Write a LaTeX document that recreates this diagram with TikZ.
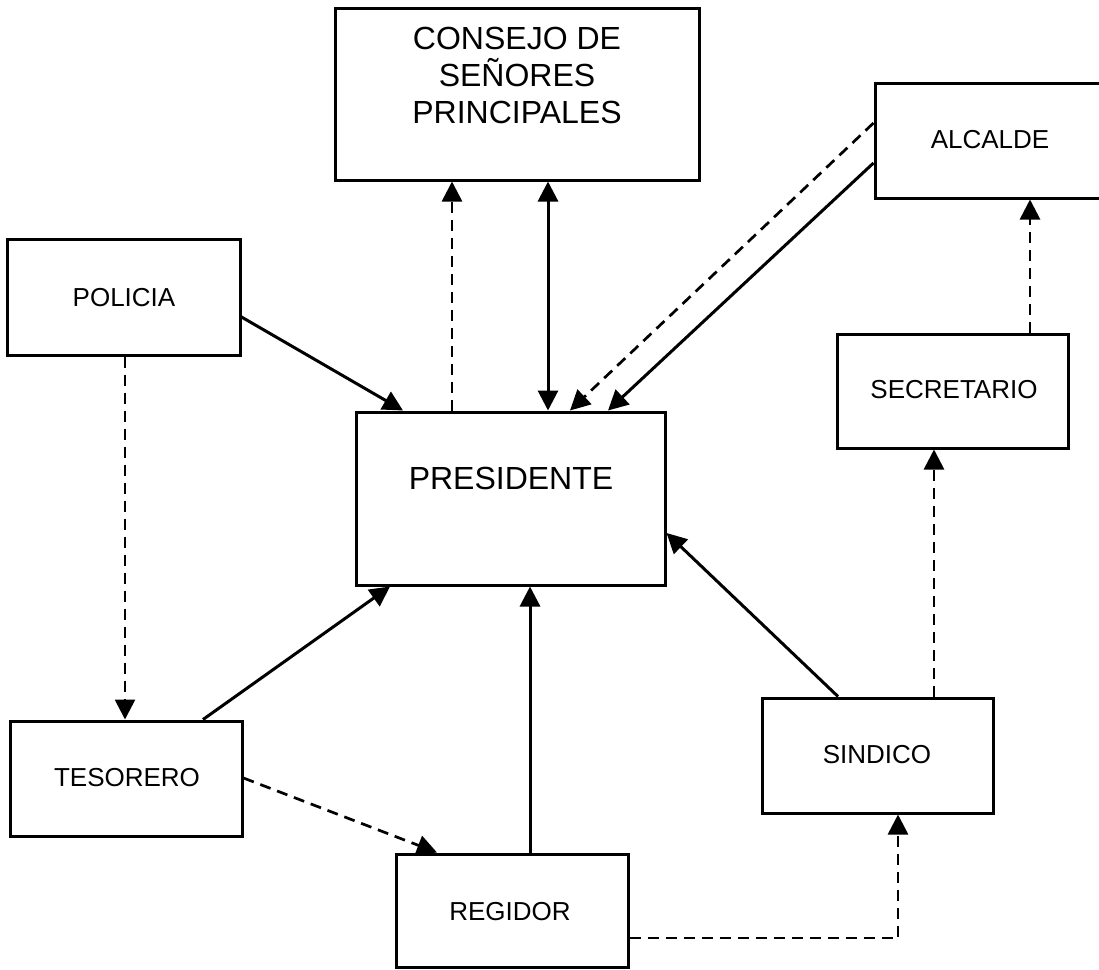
\documentclass[tikz,border=0pt]{standalone}
\usepackage{fontspec}
\setmainfont{Liberation Sans}
\usetikzlibrary{arrows.meta}
\tikzset{
  box/.style={draw, line width=3pt, inner sep=0pt},
  lbl/.style={font=\fontsize{26}{30}\selectfont, inner sep=0pt},
  big/.style={font=\fontsize{32}{37}\selectfont, align=center, inner sep=0pt},
  con/.style={line width=3pt, -{Triangle[length=20pt,width=20pt]}},
  both/.style={line width=3pt, {Triangle[length=20pt,width=20pt]}-{Triangle[length=20pt,width=20pt]}},
  das/.style={con, line width=2.7pt, dash pattern=on 11pt off 7pt}
}
\begin{document}
\begin{tikzpicture}[x=1pt,y=-1pt]
\useasboundingbox (0,0) rectangle (1099,969);
\clip (0,0) rectangle (1099,969);
% boxes
\node[box, minimum width=364pt, minimum height=172pt] (consejo) at (517,94) {};
\node[big] (consejoT) at (517,75) {CONSEJO DE\\SEÑORES\\PRINCIPALES};
\node[box, minimum width=235pt, minimum height=115pt] (alcalde) at (992.5,140.5) {};
\node[lbl] (alcaldeT) at (990,140) {ALCALDE};
\node[box, minimum width=233pt, minimum height=116pt] (policia) at (123.5,297) {};
\node[lbl] (policiaT) at (124,298) {POLICIA};
\node[box, minimum width=309pt, minimum height=173pt] (president) at (510.5,498.5) {};
\node[big] (presidentT) at (511,478) {PRESIDENTE};
\node[box, minimum width=231pt, minimum height=114pt] (secretario) at (952.5,391) {};
\node[lbl] (secretarioT) at (954,390) {SECRETARIO};
\node[box, minimum width=232pt, minimum height=115pt] (tesorero) at (126,778.5) {};
\node[lbl] (tesoreroT) at (127,778) {TESORERO};
\node[box, minimum width=231pt, minimum height=115pt] (sindico) at (877.5,755.5) {};
\node[lbl] (sindicoT) at (877,755) {SINDICO};
\node[box, minimum width=232pt, minimum height=113pt] (regidor) at (512,910.5) {};
\node[lbl] (regidorT) at (510,912) {REGIDOR};
% connectors
\draw[con] (policia.east |- 0,317) -- (403,0 |- president.north);
\draw[das] (452,0 |- president.north) -- (452,0 |- consejo.south);
\draw[both] (548,0 |- president.north) -- (548,0 |- consejo.south);
\draw[das] (alcalde.west |- 0,123) -- (570,0 |- president.north);
\draw[con] (alcalde.west |- 0,163) -- (608,0 |- president.north);
\draw[das] (125,0 |- policia.south) -- (125,0 |- tesorero.north);
\draw[con] (203,0 |- tesorero.north) -- (390,0 |- president.south);
\draw[das] (tesorero.east |- 0,778) -- (437,0 |- regidor.north);
\draw[con] (530,0 |- regidor.north) -- (530,0 |- president.south);
\draw[con] (838,0 |- sindico.north) -- (president.east |- 0,533);
\draw[das] (934,0 |- sindico.north) -- (934,0 |- secretario.south);
\draw[das] (1030,0 |- secretario.north) -- (1030,0 |- alcalde.south);
\draw[das] (regidor.east |- 0,938) -| (898,0 |- sindico.south);
\end{tikzpicture}
\end{document}
